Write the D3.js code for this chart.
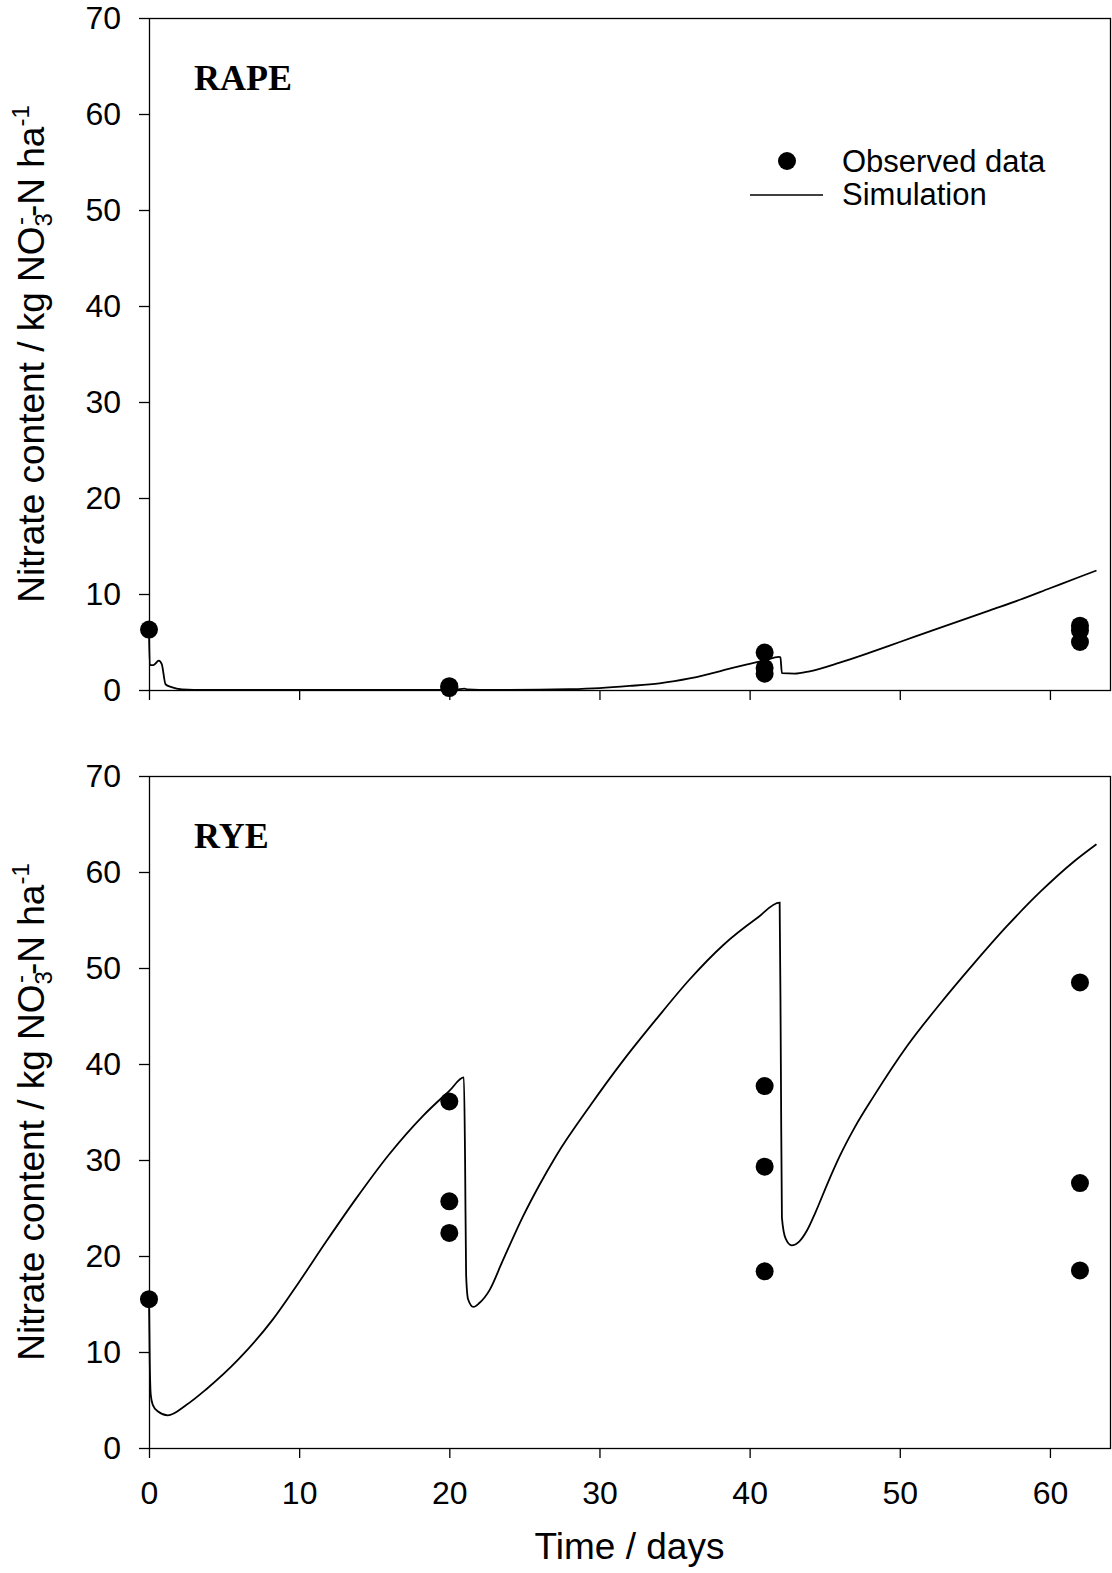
<!DOCTYPE html>
<html>
<head>
<meta charset="utf-8">
<script src="https://cdn.jsdelivr.net/npm/d3@7"></script>
<style>
  body { margin: 0; background: #fff; }
  svg { display: block; }
  .tick text { font-family: "Liberation Sans", Arial, sans-serif; font-size: 32px; fill: #000; }
  .axis-title { font-family: "Liberation Sans", Arial, sans-serif; font-size: 37px; fill: #000; }
  .legend-text { font-family: "Liberation Sans", Arial, sans-serif; font-size: 31px; fill: #000; }
  .panel-label { font-family: "Liberation Serif", "Times New Roman", serif; font-size: 36px; font-weight: bold; fill: #000; }
</style>
</head>
<body>
<svg id="chart"></svg>
<script>
// nitrate content, observed vs simulated, two crops stacked

const xTicks = [0, 10, 20, 30, 40, 50, 60];
const yTicks = [0, 10, 20, 30, 40, 50, 60, 70];

// RAPE panel
const rapeObsDays = [0, 20, 20, 41, 41, 41, 62, 62, 62];
const rapeObs = [6.3, 0.4, 0.2, 3.9, 2.3, 1.7, 6.7, 6.2, 5.0];
const rapeSimDays = [0, 0.05, 0.3, 0.65, 0.85, 1.1, 1.5, 2.2, 3, 20, 20.5, 21, 21.2, 22, 26, 28, 30, 32, 34, 35, 36, 37, 38, 39, 40, 41, 41.95, 42.05, 42.15, 43, 44, 46, 48, 50, 52, 54, 56, 58, 60, 62, 63.1];
const rapeSim = [6.3, 2.6, 2.6, 3.05, 2.7, 0.6, 0.3, 0.05, 0, 0, 0.05, 0.15, 0.05, 0.02, 0.03, 0.08, 0.2, 0.42, 0.7, 0.92, 1.2, 1.55, 1.95, 2.35, 2.72, 3.08, 3.45, 3.4, 1.75, 1.7, 1.95, 2.85, 3.9, 5.0, 6.1, 7.2, 8.3, 9.4, 10.6, 11.8, 12.45];

// RYE panel
const ryeObsDays = [0, 20, 20, 20, 41, 41, 41, 62, 62, 62];
const ryeObs = [15.5, 36.1, 25.7, 22.4, 37.7, 29.3, 18.4, 48.5, 27.6, 18.5];
const ryeSimDays = [0, 0.05, 0.12, 0.25, 0.6, 1.25, 2.5, 3.8, 6.0, 8.25, 10, 11.8, 13.8, 16, 18.25, 20, 20.97, 21.05, 21.12, 21.25, 21.6, 22, 22.7, 23.5, 24.9, 26, 27.1, 29.4, 31.6, 33.8, 36, 38.25, 40.5, 42.0, 42.08, 42.15, 42.4, 42.8, 43.3, 43.8, 44.4, 45.2, 46, 47, 48.25, 50.5, 52.7, 54.9, 57.1, 59.4, 61.6, 63.1];
const ryeSim = [15.6, 9, 5.5, 4.5, 3.8, 3.4, 4.5, 6.1, 9.3, 13.4, 17.3, 21.5, 26.0, 30.6, 34.6, 37.2, 38.6, 30, 18, 15.5, 14.7, 15.1, 16.5, 19.3, 24.1, 27.4, 30.4, 35.7, 40.4, 44.7, 48.8, 52.4, 55.2, 56.8, 40, 24, 21.8, 21.1, 21.5, 22.6, 24.6, 27.6, 30.4, 33.4, 36.6, 41.9, 46.3, 50.4, 54.3, 58.0, 61.1, 62.9];

const totalW = 1112, totalH = 1573;
const margin = { left: 149, right: 2 },
    width = totalW - margin.left - margin.right,
    panelH = 672;
const panelTops = [18, 776];

const svg = d3.select("#chart")
    .attr("width", totalW)
    .attr("height", totalH);

const x = d3.scaleLinear()
    .domain([0, 64])
    .range([0, width]);

const y = d3.scaleLinear()
    .domain([0, 70])
    .range([panelH, 0]);

function yTitle(g) {
    const t = g.append("text")
        .attr("class", "axis-title")
        .attr("font-size", "38px")
        .attr("text-anchor", "middle")
        .attr("transform", `translate(${44 - margin.left},${panelH / 2}) rotate(-90)`);
    t.append("tspan").text("Nitrate content / kg NO");
    t.append("tspan").attr("font-size", "24px").attr("dy", 8).text("3");
    t.append("tspan").attr("font-size", "24px").attr("dx", -12).attr("dy", -24).text("-");
    t.append("tspan").attr("dy", 16).text("-N ha");
    t.append("tspan").attr("font-size", "24px").attr("dy", -15).text("-1");
}

function drawPanel(top, label, obsDays, obs, simDays, sim, showXLabels) {
    const g = svg.append("g")
        .attr("transform", `translate(${margin.left},${top})`);

    // frame
    g.append("rect")
        .attr("x", 0.5)
        .attr("y", 0.5)
        .attr("width", width)
        .attr("height", panelH)
        .attr("fill", "none")
        .attr("stroke", "#000")
        .attr("stroke-width", 1.3);

    const yAxis = g.append("g")
        .call(d3.axisLeft(y).tickValues(yTicks).tickSize(10).tickPadding(18).tickSizeOuter(0));
    yAxis.select(".domain").remove();
    yAxis.selectAll(".tick line").attr("stroke-width", 1.3);

    const xAxis = g.append("g")
        .attr("transform", `translate(0,${panelH})`)
        .call(d3.axisBottom(x).tickValues(xTicks).tickSize(10).tickPadding(23).tickSizeOuter(0)
            .tickFormat(showXLabels ? d3.format("d") : () => ""));
    xAxis.select(".domain").remove();
    xAxis.selectAll(".tick line").attr("stroke-width", 1.3);

    const sim_data = simDays.map((d, i) => ({ day: d, val: sim[i] }));
    g.append("path")
        .datum(sim_data)
        .attr("fill", "none")
        .attr("stroke", "#000")
        .attr("stroke-width", 1.8)
        .attr("d", d3.line()
            .x(d => x(d.day))
            .y(d => y(d.val))
            .curve(d3.curveMonotoneX));

    const obs_data = obsDays.map((d, i) => ({ day: d, val: obs[i] }));
    g.selectAll(".dot")
        .data(obs_data)
        .enter()
        .append("circle")
        .attr("class", "dot")
        .attr("cx", d => x(d.day))
        .attr("cy", d => y(d.val))
        .attr("r", 9)
        .attr("fill", "#000");

    g.append("text")
        .attr("class", "panel-label")
        .attr("x", 45)
        .attr("y", 72)
        .text(label);

    yTitle(g);
    return g;
}

const g1 = drawPanel(panelTops[0], "RAPE", rapeObsDays, rapeObs, rapeSimDays, rapeSim, false);
drawPanel(panelTops[1], "RYE", ryeObsDays, ryeObs, ryeSimDays, ryeSim, true);

// legend in top panel
const legend = g1.append("g").attr("transform", `translate(${750 - margin.left},0)`);
legend.append("circle").attr("cx", 37).attr("cy", 143).attr("r", 9).attr("fill", "#000");
legend.append("text").attr("class", "legend-text").attr("x", 92).attr("y", 154).text("Observed data");
legend.append("line").attr("x1", 0).attr("x2", 73).attr("y1", 177).attr("y2", 177)
    .attr("stroke", "#000").attr("stroke-width", 1.5);
legend.append("text").attr("class", "legend-text").attr("x", 92).attr("y", 187).text("Simulation");

// x axis title
svg.append("text")
    .attr("class", "axis-title")
    .attr("text-anchor", "middle")
    .attr("x", margin.left + width / 2)
    .attr("y", 1559)
    .text("Time / days");
</script>
</body>
</html>
